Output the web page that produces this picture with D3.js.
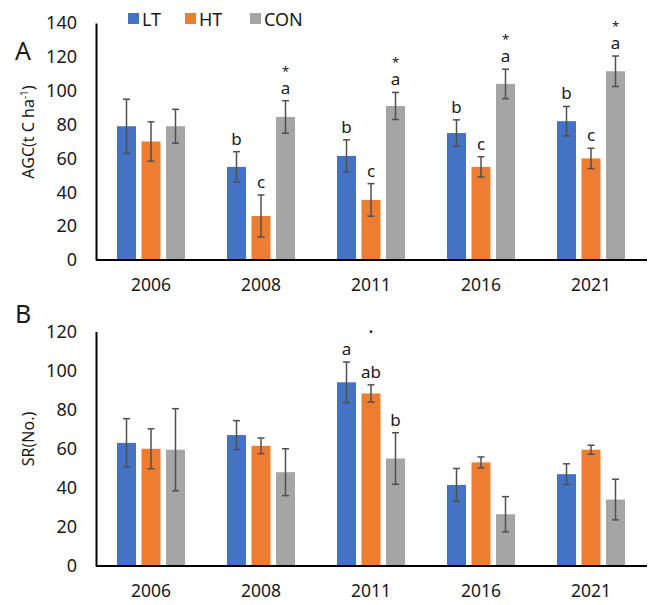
<!DOCTYPE html>
<html>
<head>
<meta charset="utf-8">
<script src="https://cdn.jsdelivr.net/npm/d3@7"></script>
<style>
    body { margin: 0; background: #fff; }
    svg { display: block; font-family: "Noto Sans", "Open Sans", sans-serif; }
</style>
</head>
<body>
<svg id="chart" width="649" height="605"></svg>
<script>
const years = ["2006", "2008", "2011", "2016", "2021"];
const series = ["LT", "HT", "CON"];
const colors = ["#4472C4", "#ED7D31", "#A5A5A5"];

// panel A: AGC
const agcTicks = [0, 20, 40, 60, 80, 100, 120, 140];
const agcLT = [79, 55, 61.5, 75, 82];
const agcHT = [70, 26, 35.5, 55, 60];
const agcCON = [79, 84.5, 91, 104, 111.5];
const agcLTErr = [16, 9, 9.5, 7.8, 8.7];
const agcHTErr = [11.6, 12.4, 9.6, 6, 6];
const agcCONErr = [10, 9.6, 8, 8.7, 9];
const agcLTLetters = ["", "b", "b", "b", "b"];
const agcHTLetters = ["", "c", "c", "c", "c"];
const agcCONLetters = ["", "a", "a", "a", "a"];
const agcCONMarks = ["", "*", "*", "*", "*"];

// panel B: SR
const srTicks = [0, 20, 40, 60, 80, 100, 120];
const srLT = [63, 67, 94, 41.5, 47];
const srHT = [60, 61.5, 88.3, 53, 59.5];
const srCON = [59.5, 48, 55, 26.5, 34];
const srLTErr = [12.4, 7.4, 10.4, 8.4, 5.3];
const srHTErr = [10.2, 4, 4.4, 2.8, 2.3];
const srCONErr = [21, 12, 13.2, 9, 10.4];
const srLTLetters = ["", "", "a", "", ""];
const srHTLetters = ["", "", "ab", "", ""];
const srCONLetters = ["", "", "b", "", ""];
const srHTMarks = ["", "", "·", "", ""];

const svg = d3.select("#chart");
const textColor = "#1a1a1a";

const x0 = d3.scaleBand().domain(years).range([96, 646]).padding(0);
const x1 = d3.scaleBand().domain(series).range([0, x0.bandwidth()])
    .paddingInner(0.224).paddingOuter(0.857);

function drawPanel(opts) {
    const y = d3.scaleLinear().domain(opts.domain).range(opts.range);
    const g = svg.append("g");

    const rows = [];
    series.forEach((s, si) => {
        years.forEach((yr, i) => {
            rows.push({
                year: yr, s: s, color: colors[si],
                v: opts.values[si][i], e: opts.errs[si][i],
                letter: opts.letters[si][i], mark: opts.marks[si][i],
            });
        });
    });

    g.selectAll("rect.bar")
        .data(rows)
        .enter()
        .append("rect")
        .attr("x", (d) => x0(d.year) + x1(d.s))
        .attr("y", (d) => y(d.v))
        .attr("width", x1.bandwidth())
        .attr("height", (d) => y(0) - y(d.v))
        .attr("fill", (d) => d.color);

    const eb = g.selectAll("g.err").data(rows).enter().append("g")
        .attr("stroke", "#505050").attr("stroke-width", 1.5);
    const cx = (d) => x0(d.year) + x1(d.s) + x1.bandwidth() / 2;
    eb.append("line")
        .attr("x1", cx).attr("x2", cx)
        .attr("y1", (d) => y(d.v + d.e)).attr("y2", (d) => y(d.v - d.e));
    [1, -1].forEach((sign) => {
        eb.append("line")
            .attr("x1", (d) => cx(d) - 3.5).attr("x2", (d) => cx(d) + 3.5)
            .attr("y1", (d) => y(d.v + sign * d.e)).attr("y2", (d) => y(d.v + sign * d.e));
    });

    g.selectAll("text.letter")
        .data(rows.filter((d) => d.letter))
        .enter()
        .append("text")
        .attr("x", cx)
        .attr("y", (d) => y(d.v + d.e) - 7)
        .attr("text-anchor", "middle")
        .attr("font-size", 17)
        .attr("fill", textColor)
        .text((d) => d.letter);

    g.selectAll("text.mark")
        .data(rows.filter((d) => d.mark))
        .enter()
        .append("text")
        .attr("x", cx)
        .attr("y", (d) => y(d.v + d.e) - 7 - opts.markGap)
        .attr("text-anchor", "middle")
        .attr("font-size", opts.markSize)
        .attr("fill", textColor)
        .text((d) => d.mark);

    const yAxis = g.append("g")
        .attr("transform", "translate(96,0)")
        .call(d3.axisLeft(y).tickValues(opts.ticks).tickSize(0).tickPadding(19));
    yAxis.select(".domain").attr("stroke", "#000").attr("stroke-width", 2);
    yAxis.selectAll("text").attr("font-size", 18).attr("fill", textColor)
        .style("font-family", "Noto Sans, sans-serif");

    const xAxis = g.append("g")
        .attr("transform", `translate(0,${y(0)})`)
        .call(d3.axisBottom(x0).tickSize(0).tickPadding(19).tickSizeOuter(0));
    xAxis.select(".domain").attr("stroke", "#000").attr("stroke-width", 2)
        .attr("d", "M96,0H647");
    xAxis.selectAll("text").attr("font-size", 17.5).attr("fill", textColor)
        .style("font-family", "Noto Sans, sans-serif");

    svg.append("text")
        .attr("x", 15).attr("y", opts.letterY)
        .attr("font-size", 25).attr("fill", textColor)
        .text(opts.panel);

    const title = svg.append("text")
        .attr("transform", `translate(34,${opts.titleY}) rotate(-90)`)
        .attr("text-anchor", "middle")
        .attr("font-size", 16)
        .attr("fill", textColor);
    title.append("tspan").text(opts.title[0]);
    if (opts.title[1]) {
        title.append("tspan").attr("dy", -6).attr("font-size", 10).text(opts.title[1]);
        title.append("tspan").attr("dy", 6).text(opts.title[2]);
    }
}

drawPanel({
    panel: "A", letterY: 60, titleY: 132,
    title: ["AGC(t C ha", "-1", ")"],
    domain: [0, 140], range: [260, 23], ticks: agcTicks,
    values: [agcLT, agcHT, agcCON],
    errs: [agcLTErr, agcHTErr, agcCONErr],
    letters: [agcLTLetters, agcHTLetters, agcCONLetters],
    marks: [["", "", "", "", ""], ["", "", "", "", ""], agcCONMarks],
    markGap: 18, markSize: 13,
});

drawPanel({
    panel: "B", letterY: 323, titleY: 439,
    title: ["SR(No.)"],
    domain: [0, 120], range: [566, 331.5], ticks: srTicks,
    values: [srLT, srHT, srCON],
    errs: [srLTErr, srHTErr, srCONErr],
    letters: [srLTLetters, srHTLetters, srCONLetters],
    marks: [["", "", "", "", ""], srHTMarks, ["", "", "", "", ""]],
    markGap: 39, markSize: 20,
});

// legend
const legend = svg.append("g");
const legendX = [128, 185, 250];
series.forEach((s, i) => {
    legend.append("rect")
        .attr("x", legendX[i]).attr("y", 13)
        .attr("width", 11).attr("height", 11)
        .attr("fill", colors[i]);
    legend.append("text")
        .attr("x", legendX[i] + 14).attr("y", 25.5)
        .attr("font-size", 18).attr("fill", textColor)
        .text(s);
});
</script>
</body>
</html>
